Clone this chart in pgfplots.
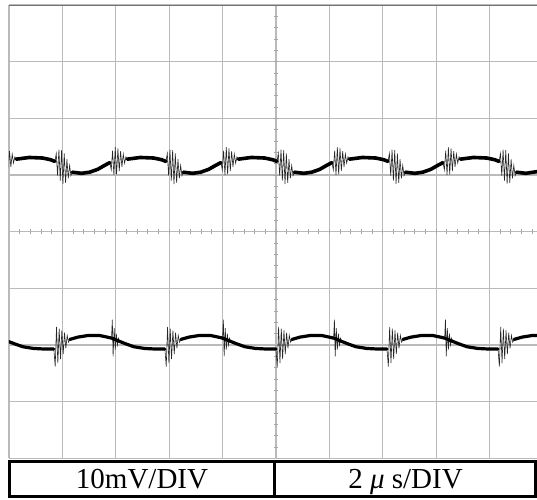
\documentclass[border=0pt]{standalone}
\usepackage{pgfplots}
\pgfplotsset{compat=1.18}
\usepackage{pgfplotstable}
\usepackage{fontspec}
\setmainfont{Liberation Serif}

\pgfplotstableread{
x y
0.135 1.28
0.38 1.31
0.63 1.30
0.78 1.27
0.86 1.24
0.87 nan
1.185 1.05
1.36 1.03
1.51 1.05
1.66 1.10
1.79 1.17
1.89 1.22
1.90 nan
2.215 1.28
2.46 1.31
2.71 1.30
2.86 1.27
2.94 1.24
2.95 nan
3.265 1.05
3.44 1.03
3.59 1.05
3.74 1.10
3.87 1.17
3.97 1.22
3.98 nan
4.295 1.28
4.54 1.31
4.79 1.30
4.94 1.27
5.02 1.24
5.03 nan
5.345 1.05
5.52 1.03
5.67 1.05
5.82 1.10
5.95 1.17
6.05 1.22
6.06 nan
6.375 1.28
6.62 1.31
6.87 1.30
7.02 1.27
7.10 1.24
7.11 nan
7.425 1.05
7.60 1.03
7.75 1.05
7.90 1.10
8.03 1.17
8.13 1.22
8.14 nan
8.455 1.28
8.70 1.31
8.95 1.30
9.10 1.27
9.18 1.24
9.19 nan
9.505 1.05
9.68 1.03
9.89 1.06
}\topbase

\pgfplotstableread{
x y
-0.015 1.07
0.01 1.42
0.035 1.14
0.06 1.37
0.085 1.21
0.11 1.32
0.135 1.28
0.14 nan
0.86 1.24
0.885 1.38
0.91 0.99
0.935 1.45
0.96 0.90
0.985 1.44
1.01 0.84
1.035 1.38
1.06 0.86
1.085 1.28
1.11 0.94
1.135 1.17
1.16 0.99
1.185 1.05
1.19 nan
1.89 1.22
1.915 1.09
1.94 1.43
1.965 1.00
1.99 1.49
2.015 1.01
2.04 1.47
2.065 1.07
2.09 1.42
2.115 1.14
2.14 1.37
2.165 1.21
2.19 1.32
2.215 1.28
2.22 nan
2.94 1.24
2.965 1.38
2.99 0.99
3.015 1.45
3.04 0.90
3.065 1.44
3.09 0.84
3.115 1.38
3.14 0.86
3.165 1.28
3.19 0.94
3.215 1.17
3.24 0.99
3.265 1.05
3.27 nan
3.97 1.22
3.995 1.09
4.02 1.43
4.045 1.00
4.07 1.49
4.095 1.01
4.12 1.47
4.145 1.07
4.17 1.42
4.195 1.14
4.22 1.37
4.245 1.21
4.27 1.32
4.295 1.28
4.30 nan
5.02 1.24
5.045 1.38
5.07 0.99
5.095 1.45
5.12 0.90
5.145 1.44
5.17 0.84
5.195 1.38
5.22 0.86
5.245 1.28
5.27 0.94
5.295 1.17
5.32 0.99
5.345 1.05
5.35 nan
6.05 1.22
6.075 1.09
6.10 1.43
6.125 1.00
6.15 1.49
6.175 1.01
6.20 1.47
6.225 1.07
6.25 1.42
6.275 1.14
6.30 1.37
6.325 1.21
6.35 1.32
6.375 1.28
6.38 nan
7.10 1.24
7.125 1.38
7.15 0.99
7.175 1.45
7.20 0.90
7.225 1.44
7.25 0.84
7.275 1.38
7.30 0.86
7.325 1.28
7.35 0.94
7.375 1.17
7.40 0.99
7.425 1.05
7.43 nan
8.13 1.22
8.155 1.09
8.18 1.43
8.205 1.00
8.23 1.49
8.255 1.01
8.28 1.47
8.305 1.07
8.33 1.42
8.355 1.14
8.38 1.37
8.405 1.21
8.43 1.32
8.455 1.28
8.46 nan
9.18 1.24
9.205 1.38
9.23 0.99
9.255 1.45
9.28 0.90
9.305 1.44
9.33 0.84
9.355 1.38
9.38 0.86
9.405 1.28
9.43 0.94
9.455 1.17
9.48 0.99
9.505 1.05
}\topring

\pgfplotstableread{
x y
0 -1.94
0.11 -1.98
0.26 -2.03
0.46 -2.06
0.66 -2.07
0.84 -2.07
0.85 nan
1.14 -1.90
1.29 -1.86
1.49 -1.83
1.69 -1.83
1.84 -1.86
1.93 -1.88
2.03 -1.92
2.19 -1.98
2.34 -2.03
2.54 -2.06
2.74 -2.07
2.92 -2.07
2.93 nan
3.22 -1.90
3.37 -1.86
3.57 -1.83
3.77 -1.83
3.92 -1.86
4.01 -1.88
4.11 -1.92
4.27 -1.98
4.42 -2.03
4.62 -2.06
4.82 -2.07
5.00 -2.07
5.01 nan
5.30 -1.90
5.45 -1.86
5.65 -1.83
5.85 -1.83
6.00 -1.86
6.09 -1.88
6.19 -1.92
6.35 -1.98
6.50 -2.03
6.70 -2.06
6.90 -2.07
7.08 -2.07
7.09 nan
7.38 -1.90
7.53 -1.86
7.73 -1.83
7.93 -1.83
8.08 -1.86
8.17 -1.88
8.27 -1.92
8.43 -1.98
8.58 -2.03
8.78 -2.06
8.98 -2.07
9.16 -2.07
9.17 nan
9.46 -1.90
9.61 -1.86
9.81 -1.83
9.89 -1.83
}\botbase

\pgfplotstableread{
x y
0.84 -2.07
0.865 -2.38
0.89 -1.68
0.915 -2.32
0.94 -1.71
0.965 -2.25
0.99 -1.74
1.015 -2.16
1.04 -1.78
1.065 -2.06
1.09 -1.83
1.115 -1.95
1.14 -1.90
1.15 nan
1.92 -1.88
1.935 -1.55
1.95 -2.20
1.97 -1.70
1.99 -2.08
2.01 -1.80
2.03 -2.00
2.05 -1.88
2.07 -1.94
2.08 nan
2.92 -2.07
2.945 -2.38
2.97 -1.68
2.995 -2.32
3.02 -1.71
3.045 -2.25
3.07 -1.74
3.095 -2.16
3.12 -1.78
3.145 -2.06
3.17 -1.83
3.195 -1.95
3.22 -1.90
3.23 nan
4.00 -1.88
4.015 -1.55
4.03 -2.20
4.05 -1.70
4.07 -2.08
4.09 -1.80
4.11 -2.00
4.13 -1.88
4.15 -1.94
4.16 nan
5.00 -2.07
5.025 -2.38
5.05 -1.68
5.075 -2.32
5.10 -1.71
5.125 -2.25
5.15 -1.74
5.175 -2.16
5.20 -1.78
5.225 -2.06
5.25 -1.83
5.275 -1.95
5.30 -1.90
5.31 nan
6.08 -1.88
6.095 -1.55
6.11 -2.20
6.13 -1.70
6.15 -2.08
6.17 -1.80
6.19 -2.00
6.21 -1.88
6.23 -1.94
6.24 nan
7.08 -2.07
7.105 -2.38
7.13 -1.68
7.155 -2.32
7.18 -1.71
7.205 -2.25
7.23 -1.74
7.255 -2.16
7.28 -1.78
7.305 -2.06
7.33 -1.83
7.355 -1.95
7.38 -1.90
7.39 nan
8.16 -1.88
8.175 -1.55
8.19 -2.20
8.21 -1.70
8.23 -2.08
8.25 -1.80
8.27 -2.00
8.29 -1.88
8.31 -1.94
8.32 nan
9.16 -2.07
9.185 -2.38
9.21 -1.68
9.235 -2.32
9.26 -1.71
9.285 -2.25
9.31 -1.74
9.335 -2.16
9.36 -1.78
9.385 -2.06
9.41 -1.83
9.435 -1.95
9.46 -1.90
}\botring

\begin{document}
\begin{tikzpicture}
\path[use as bounding box] (0,0) rectangle (537pt,499pt);
\begin{axis}[
  at={(9pt,40.6pt)}, anchor=south west,
  scale only axis, width=528pt, height=453.4pt,
  xmin=0, xmax=9.89, ymin=-4, ymax=4,
  xtick={0,...,9}, ytick={-4,...,4},
  xticklabels={}, yticklabels={},
  major tick length=0pt,
  grid=major,
  major grid style={draw=black!27, line width=1.2pt},
  axis line style={draw=none},
  unbounded coords=jump,
]
\pgfplotsinvokeforeach{0.2,0.4,...,9.8}{
  \draw[black!35, line width=0.8pt] (axis cs:#1,-0.045) -- (axis cs:#1,0.045);
}
\pgfplotsinvokeforeach{-3.8,-3.6,...,3.8}{
  \draw[black!35, line width=0.8pt] (axis cs:4.955,#1) -- (axis cs:5.045,#1);
}
\draw[black!55, line width=1.6pt] (axis cs:0,4) -- (axis cs:9.89,4);
\addplot[black!85, line width=0.6pt] table {\topring};
\addplot[black, line width=3.6pt, line join=round, line cap=round] table {\topbase};
\addplot[black!85, line width=0.6pt] table {\botring};
\addplot[black, line width=3.2pt, line join=round, line cap=round] table {\botbase};
\end{axis}
\draw[line width=3pt] (9.5pt,2.3pt) rectangle (535.5pt,38pt);
\draw[line width=3pt] (274.8pt,2.3pt) -- (274.8pt,38pt);
\node[anchor=base, inner sep=0pt, font=\fontsize{29}{31}\selectfont] at (142pt,11pt) {10mV/DIV};
\node[anchor=base, inner sep=0pt, font=\fontsize{29}{31}\selectfont] at (405.5pt,11pt) {2 \textit{μ} s/DIV};
\end{tikzpicture}
\end{document}
